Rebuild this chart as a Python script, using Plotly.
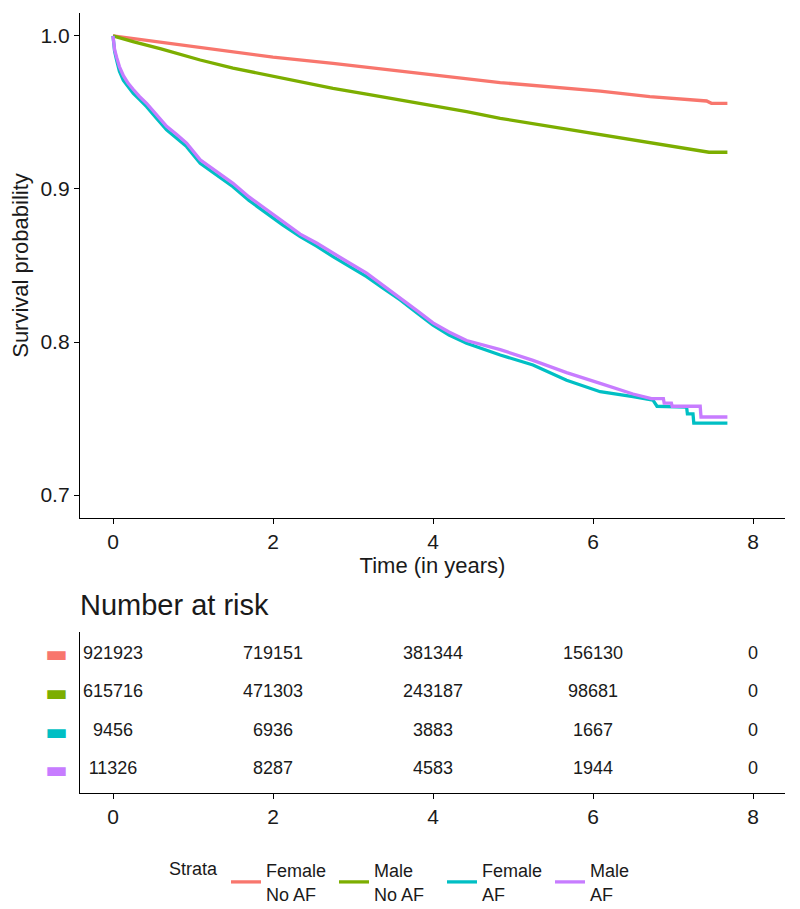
import plotly.graph_objects as go

# survival curves
strata = ["Female No AF", "Male No AF", "Female AF", "Male AF"]
colors = ["#F8766D", "#7CAE00", "#00BFC4", "#C77CFF"]

t_female_noaf = [0, 0.5, 1.0, 1.5, 2.0, 2.75, 3.59, 4.0, 4.84, 5.5, 6.09, 6.71, 7.21, 7.42, 7.48, 7.68]
s_female_noaf = [1.0, 0.9966, 0.9930, 0.9893, 0.9862, 0.9821, 0.9767, 0.9745, 0.9695, 0.9665, 0.9640,
                 0.9603, 0.9582, 0.9575, 0.9560, 0.9560]

t_male_noaf = [0, 0.1, 0.25, 0.6, 1.09, 1.5, 1.92, 2.34, 2.75, 3.17, 3.59, 4.0, 4.42, 4.84, 5.46, 6.09,
               6.5, 6.92, 7.13, 7.38, 7.45, 7.68]
s_male_noaf = [1.0, 0.9983, 0.9963, 0.9915, 0.9843, 0.9790, 0.9745, 0.9700, 0.9658, 0.9620, 0.9582,
               0.9545, 0.9505, 0.9462, 0.9410, 0.9353, 0.9322, 0.9288, 0.9266, 0.9250, 0.9240, 0.9240]

t_female_af = [0, 0.02, 0.046, 0.08, 0.13, 0.19, 0.254, 0.33, 0.42, 0.54, 0.67, 0.8, 0.92, 1.09, 1.3,
               1.5, 1.7, 1.92, 2.12, 2.34, 2.55, 2.75, 2.95, 3.17, 3.38, 3.59, 3.8, 4.0, 4.2, 4.42,
               4.84, 5.25, 5.67, 6.09, 6.5, 6.75, 6.8, 7.17, 7.18, 7.25, 7.26, 7.68]
s_female_af = [1.0, 0.990, 0.984, 0.977, 0.971, 0.9665, 0.9625, 0.9585, 0.9538, 0.9465, 0.9386, 0.9330,
               0.9277, 0.9168, 0.9090, 0.9015, 0.8925, 0.8841, 0.8765, 0.8688, 0.8625, 0.8558, 0.8495,
               0.8427, 0.8350, 0.8275, 0.8190, 0.8110, 0.8045, 0.7992, 0.7915, 0.7850, 0.7750, 0.7675,
               0.7643, 0.7620, 0.7580, 0.7575, 0.7530, 0.7530, 0.7470, 0.7470]

t_male_af = [0, 0.02, 0.046, 0.08, 0.13, 0.19, 0.254, 0.33, 0.42, 0.54, 0.67, 0.8, 0.92, 1.09, 1.3,
             1.5, 1.7, 1.92, 2.12, 2.34, 2.55, 2.75, 2.95, 3.17, 3.38, 3.59, 3.8, 4.0, 4.2, 4.42,
             4.84, 5.25, 5.67, 6.09, 6.5, 6.73, 6.88, 6.89, 6.98, 6.99, 7.34, 7.35, 7.68]
s_male_af = [1.0, 0.991, 0.986, 0.980, 0.974, 0.9690, 0.9650, 0.9605, 0.9560, 0.9488, 0.9410, 0.9355,
             0.9300, 0.9190, 0.9112, 0.9037, 0.8948, 0.8863, 0.8785, 0.8705, 0.8645, 0.8580, 0.8518,
             0.8450, 0.8370, 0.8290, 0.8205, 0.8125, 0.8065, 0.8010, 0.7950, 0.7880, 0.7800, 0.7730,
             0.7660, 0.7630, 0.7630, 0.7600, 0.7600, 0.7580, 0.7580, 0.7510, 0.7510]

# number at risk table
risk_times = [0, 2, 4, 6, 8]
risk_female_noaf = [921923, 719151, 381344, 156130, 0]
risk_male_noaf = [615716, 471303, 243187, 98681, 0]
risk_female_af = [9456, 6936, 3883, 1667, 0]
risk_male_af = [11326, 8287, 4583, 1944, 0]

curves = [(t_female_noaf, s_female_noaf), (t_male_noaf, s_male_noaf),
          (t_female_af, s_female_af), (t_male_af, s_male_af)]
risks = [risk_female_noaf, risk_male_noaf, risk_female_af, risk_male_af]

FONT = "Liberation Sans, Arial, sans-serif"
INK = "#1a1a1a"
# the page body adds an 8px margin, so the figure is 8px smaller each way
W, H = 792, 901

fig = go.Figure()

for name, col, (t, s) in zip(strata, colors, curves):
    fig.add_trace(go.Scatter(
        x=t, y=s, mode="lines", name=name.replace(" ", "<br>", 1),
        line=dict(color=col, width=3.3), xaxis="x", yaxis="y",
    ))

for name, risk in zip(strata, risks):
    fig.add_trace(go.Scatter(
        x=risk_times, y=[name] * len(risk_times), mode="text",
        text=[str(v) for v in risk], textposition="middle center",
        textfont=dict(size=18, color=INK, family=FONT),
        showlegend=False, xaxis="x2", yaxis="y2",
    ))

axis_common = dict(
    showline=True, linecolor="black", linewidth=1.3, showgrid=False, zeroline=False,
    ticks="outside", ticklen=5, tickwidth=1.3, tickcolor="black",
    tickfont=dict(size=21, color=INK, family=FONT), automargin=False,
)

fig.update_layout(
    width=W, height=H,
    margin=dict(l=72, r=15, t=5, b=116),
    paper_bgcolor="white", plot_bgcolor="white",
    font=dict(family=FONT, color=INK),
    title=dict(text="Number at risk", font=dict(size=29, color=INK, family=FONT),
               xref="paper", x=0, xanchor="left", yref="container",
               y=1 - 597 / H, yanchor="middle"),
    xaxis=dict(axis_common, domain=[0, 1], range=[-0.4125, 8.4], tickvals=[0, 2, 4, 6, 8],
               anchor="y",
               title=dict(text="Time (in years)", font=dict(size=22, color=INK), standoff=2)),
    yaxis=dict(axis_common, domain=[0.3526, 1], range=[0.685, 1.015],
               tickvals=[0.7, 0.8, 0.9, 1.0], ticktext=["0.7", "0.8", "0.9", "1.0"], anchor="x",
               title=dict(text="Survival probability", font=dict(size=22, color=INK), standoff=6)),
    xaxis2=dict(axis_common, domain=[0, 1], range=[-0.4125, 8.4], tickvals=[0, 2, 4, 6, 8],
                anchor="y2"),
    yaxis2=dict(showline=True, linecolor="black", linewidth=1.3, showgrid=False, zeroline=False,
                ticks="", type="category", categoryarray=strata[::-1],
                tickvals=strata,
                ticktext=['<span style="color:%s">▬</span>' % c for c in colors],
                tickfont=dict(size=24, family="DejaVu Sans"), ticklabelstandoff=6,
                domain=[0, 0.2064], range=[-0.595, 3.57], anchor="x2", automargin=False),
    legend=dict(
        orientation="h", xref="container", yref="container", x=0.5 + 9 / W, xanchor="center",
        y=1 - 874 / H, yanchor="middle", entrywidth=63,
        title=dict(text="Strata", font=dict(size=18, color=INK), side="left"),
        font=dict(size=18, color=INK, family=FONT),
    ),
)

fig.write_html("out.html")
